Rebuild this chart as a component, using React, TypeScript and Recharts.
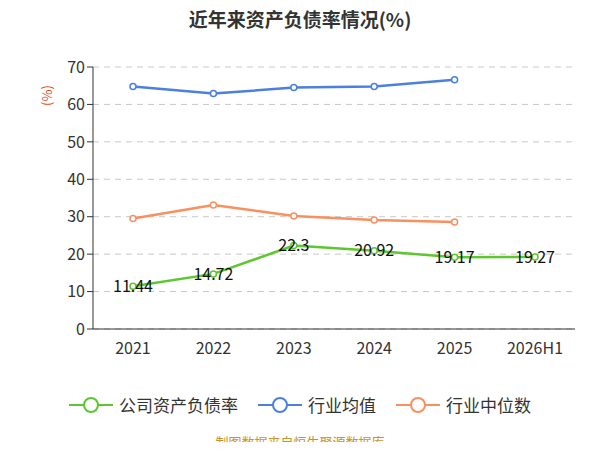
import { CartesianGrid, LabelList, Line, LineChart, XAxis, YAxis } from "recharts";

const YEARS = ["2021", "2022", "2023", "2024", "2025", "2026H1"];
const COMPANY = [11.44, 14.72, 22.3, 20.92, 19.17, 19.27];
const IND_MEAN = [64.8, 62.9, 64.5, 64.8, 66.6, null];
const IND_MEDIAN = [29.5, 33.1, 30.2, 29.1, 28.6, null];
const Y_TICKS = [0, 10, 20, 30, 40, 50, 60, 70];

const SERIES = [
  { key: "company", name: "公司资产负债率", color: "#5cc72e" },
  { key: "mean", name: "行业均值", color: "#4b7fe0" },
  { key: "median", name: "行业中位数", color: "#f89060" },
];

const data = YEARS.map((y, i) => ({
  year: y,
  company: COMPANY[i],
  mean: IND_MEAN[i],
  median: IND_MEDIAN[i],
}));

function LegendBox() {
  return (
    <div style={{ position: "absolute", top: 392, width: 600, display: "flex", justifyContent: "center", gap: 20, fontSize: 17, color: "#333" }}>
      {SERIES.map((s) => (
        <div key={s.key} style={{ display: "flex", alignItems: "center", gap: 6 }}>
          <svg width={44} height={16}>
            <line x1={0} y1={8} x2={44} y2={8} stroke={s.color} strokeWidth={2} />
            <circle cx={22} cy={8} r={7} fill="#fff" stroke={s.color} strokeWidth={2} />
          </svg>
          <span>{s.name}</span>
        </div>
      ))}
    </div>
  );
}

export default function App() {
  return (
    <div style={{ position: "relative", width: 600, height: 450, margin: -8, background: "#fff", fontFamily: "'Noto Sans CJK SC', 'Noto Sans', sans-serif" }}>
      <LineChart width={600} height={450} data={data} margin={{ top: 67, right: 25, left: 50, bottom: 91 }}>
        <CartesianGrid vertical={false} stroke="#c8c8c8" strokeDasharray="6 5" />
        <XAxis dataKey="year" height={30} padding={{ left: 40, right: 40 }} tick={{ fontSize: 16, fill: "#333" }} tickLine={false} axisLine={{ stroke: "#333" }} tickMargin={8} />
        <YAxis width={43} domain={[0, 70]} ticks={Y_TICKS} tick={{ fontSize: 16, fill: "#333" }} tickLine={{ stroke: "#333" }} axisLine={{ stroke: "#333" }} />
        {SERIES.map((s) => (
          <Line
            key={s.key}
            dataKey={s.key}
            name={s.name}
            stroke={s.color}
            strokeWidth={2.5}
            dot={{ r: 3, fill: "#fff", stroke: s.color, strokeWidth: 1.5 }}
            isAnimationActive={false}
          >
            {s.key === "company" && (
              <LabelList dataKey="company" position="center" style={{ fontSize: 16, fill: "#111" }} />
            )}
          </Line>
        ))}
      </LineChart>
      <div style={{ position: "absolute", top: 5, width: 600, textAlign: "center", fontSize: 19, fontWeight: "bold", color: "#333" }}>
        近年来资产负债率情况(%)
      </div>
      <div style={{ position: "absolute", left: 36, top: 86, fontSize: 13, color: "#e0521b", transform: "rotate(-90deg)" }}>(%)</div>
      <LegendBox />
      <div style={{ position: "absolute", top: 432, width: 600, textAlign: "center", fontSize: 13, color: "#c9952a" }}>
        制图数据来自恒生聚源数据库
      </div>
    </div>
  );
}
